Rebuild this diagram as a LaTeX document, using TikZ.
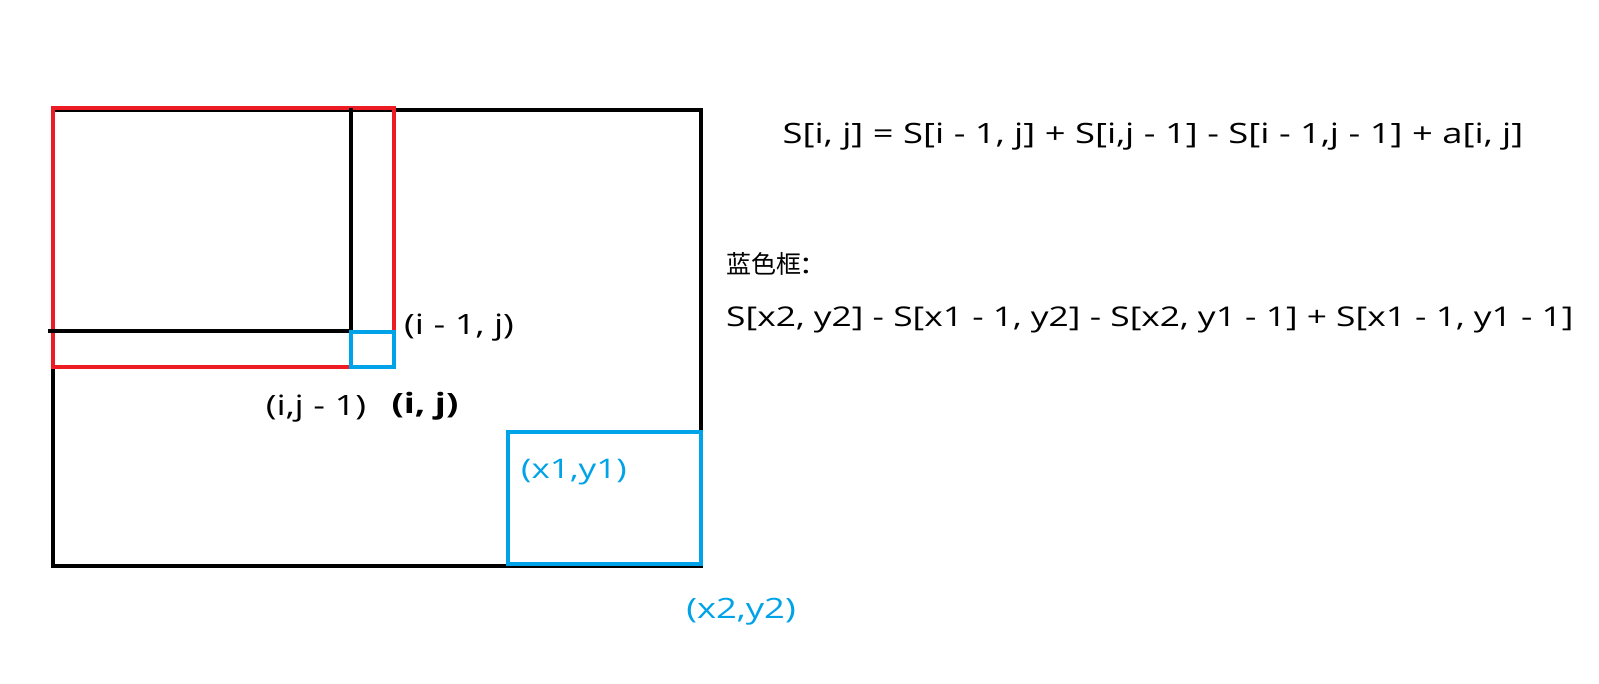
\documentclass[tikz,border=0pt]{standalone}
\usepackage{fontspec}
\setmainfont{Open Sans}[FakeStretch=1.3]
\newfontfamily\cjk{Noto Sans CJK SC}
\definecolor{paintred}{HTML}{ED1C24}
\definecolor{paintblue}{HTML}{00A2E8}

\begin{document}
\begin{tikzpicture}[x=1pt,y=-1pt,font=\fontsize{28}{33}\selectfont,
  blackline/.style={line width=4.5pt},
  redbox/.style={draw=paintred,line width=4.5pt},
  bluebox/.style={draw=paintblue,line width=4.5pt},
  lbl/.style={inner sep=0pt}]
\useasboundingbox (0,0) rectangle (1599,684);

% whole matrix
\draw[blackline] (53,110) coordinate (tl) rectangle (701,566) coordinate (br);
\draw[redbox] (53,108) rectangle (394,367) coordinate (r2);

\draw[blackline] (351,108) coordinate (v1) -- (351,331) coordinate (v2);
\draw[blackline] (48,331) coordinate (h1) -- (353,331) coordinate (h2);

\draw[bluebox] (351,332) coordinate (c1) rectangle (394,367) coordinate (c2);
\draw[bluebox] (508,432) coordinate (b1) rectangle (701,564) coordinate (b2);

\node[lbl,anchor=west] (im1j) at (404,328) {(i - 1, j)};
\node[lbl] (ijm1) at (316,409) {(i,j - 1)};
\node[lbl,font=\fontsize{28}{33}\selectfont\bfseries] (ij) at (425,406) {(i, j)};
\node[lbl,anchor=west,text=paintblue,font=\fontsize{27}{32}\selectfont] (xy1) at (521,472) {(x1,y1)};
\node[lbl,text=paintblue] (xy2) at (741,612) {(x2,y2)};

%\draw (c1) -- (c2);

\node[lbl] (rec) at (1153,137) {S[i, j] = S[i - 1, j] + S[i,j - 1] - S[i - 1,j - 1] + a[i, j]};
\node[lbl,anchor=west] (bluename) at (726,264) {{\cjk\fontsize{25}{30}\selectfont 蓝色框}:};
\node[lbl,anchor=west,font=\fontsize{27.2}{32}\selectfont] (area) at (726,320) {S[x2, y2] - S[x1 - 1, y2] - S[x2, y1 - 1] + S[x1 - 1, y1 - 1]};

\end{tikzpicture}
\end{document}
